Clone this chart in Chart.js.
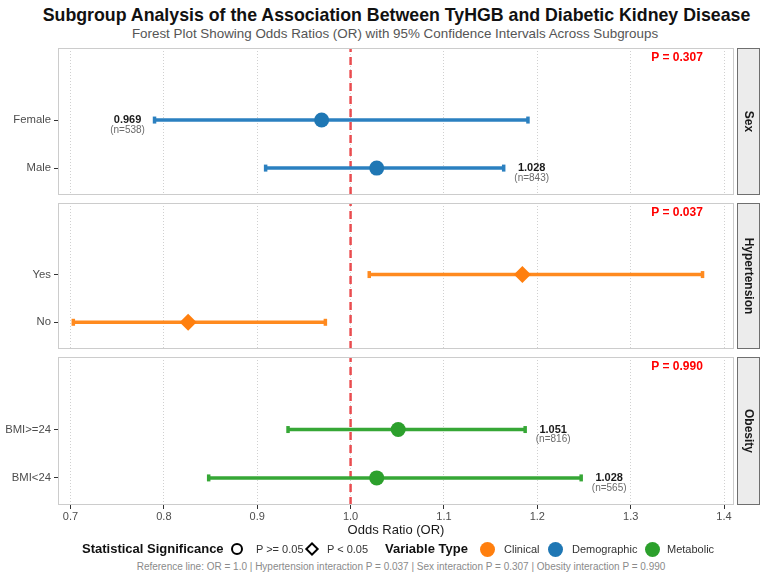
<!DOCTYPE html>
<html>
<head>
<meta charset="utf-8">
<script src="https://cdn.jsdelivr.net/npm/chart.js@4.4.1/dist/chart.umd.min.js"></script>
<style>
  body { margin: 0; background: #fff; font-family: "Liberation Sans", Arial, sans-serif; }
  #wrap { position: relative; width: 764px; height: 577px; overflow: hidden; }
  #wrap canvas { position: absolute; left: 0; }
  .title { position: absolute; top: 4px; left: 0; width: 793px; text-align: center;
           font-weight: bold; font-size: 17.75px; line-height: 22px; color: #111; }
  .subtitle { position: absolute; top: 26px; left: 0; width: 790px; text-align: center;
              font-size: 13.4px; line-height: 16px; color: #555; }
  .leg { position: absolute; top: 541px; height: 16px; line-height: 16px; white-space: nowrap; color: #333; font-size: 11px; }
  .leg.head { font-weight: bold; font-size: 13px; color: #111; }
  .sym { position: absolute; box-sizing: border-box; }
  .footer { position: absolute; top: 561px; left: 0; width: 802px; text-align: center;
            font-size: 10px; line-height: 12px; color: #8a8a8a; }
</style>
</head>
<body>
<div id="wrap">
  <div class="title">Subgroup Analysis of the Association Between TyHGB and Diabetic Kidney Disease</div>
  <div class="subtitle">Forest Plot Showing Odds Ratios (OR) with 95% Confidence Intervals Across Subgroups</div>
  <div class="footer" id="footer"></div>
</div>
<script>
// facets, top to bottom
const groups = ['Sex', 'Hypertension', 'Obesity'];
const groupType = ['Demographic', 'Clinical', 'Metabolic'];
const interactionP = [0.307, 0.037, 0.990];

// subgroups inside each facet, bottom to top
const subgroupLabels = [['Male', 'Female'], ['No', 'Yes'], ['BMI<24', 'BMI>=24']];
const oddsRatios = [[1.028, 0.969], [0.826, 1.184], [1.028, 1.051]];
const ciLower = [[0.909, 0.790], [0.703, 1.020], [0.848, 0.933]];
const ciUpper = [[1.164, 1.190], [0.973, 1.377], [1.247, 1.187]];
const sampleSizes = [[843, 538], [null, null], [565, 816]];

const xTicks = [0.7, 0.8, 0.9, 1.0, 1.1, 1.2, 1.3, 1.4];
const refLine = 1.0;

const typeNames = ['Clinical', 'Demographic', 'Metabolic'];
const typeColors = { Clinical: '#ff7f0e', Demographic: '#1f77b4', Metabolic: '#2ca02c' };
const lineColors = { Clinical: '#ff8a1f', Demographic: '#2b80c0', Metabolic: '#36a736' };

const FONT = '"Liberation Sans", Arial, sans-serif';
const xMin = 0.6866, xMax = 1.4107;
const yMin = 0.44, yMax = 3.5;

const panelTops = [48, 203, 357];
const panelHeights = [147, 146, 148];

const wrap = document.getElementById('wrap');

const panelDecor = {
    id: 'panelDecor',
    afterDraw(chart, args, opts) {
        const { ctx, chartArea: a, scales: { x, y } } = chart;
        const g = opts.group;
        ctx.save();

        // panel border
        ctx.strokeStyle = '#cccccc';
        ctx.lineWidth = 1;
        ctx.strokeRect(a.left + 0.5, a.top + 0.5, a.width - 1, a.height - 1);

        // facet strip on the right
        const sx = a.right + 3, sw = 23;
        ctx.fillStyle = '#ececec';
        ctx.fillRect(sx, a.top, sw, a.height);
        ctx.strokeStyle = '#6f6f6f';
        ctx.strokeRect(sx + 0.5, a.top + 0.5, sw - 1, a.height - 1);
        ctx.save();
        ctx.translate(sx + sw / 2, (a.top + a.bottom) / 2);
        ctx.rotate(Math.PI / 2);
        ctx.fillStyle = '#1a1a1a';
        ctx.font = 'bold 12px ' + FONT;
        ctx.textAlign = 'center';
        ctx.textBaseline = 'middle';
        ctx.fillText(groups[g], 0, 0);
        ctx.restore();

        // interaction p value
        ctx.fillStyle = '#ff0000';
        ctx.font = 'bold 12px ' + FONT;
        ctx.textAlign = 'center';
        ctx.textBaseline = 'middle';
        ctx.fillText('P = ' + interactionP[g].toFixed(3), a.right - 57, a.top + 9.5);

        // OR / n labels for non-significant facets
        if (interactionP[g] >= 0.05) {
            oddsRatios[g].forEach((or, i) => {
                const py = y.getPixelForValue(i + 1);
                const px = or < 1
                    ? x.getPixelForValue(ciLower[g][i]) - 27
                    : x.getPixelForValue(ciUpper[g][i]) + 28;
                ctx.fillStyle = '#1a1a1a';
                ctx.font = 'bold 11px ' + FONT;
                ctx.fillText(or.toFixed(3), px, py);
                if (sampleSizes[g][i] != null) {
                    ctx.fillStyle = '#6b6b6b';
                    ctx.font = '10px ' + FONT;
                    ctx.fillText('(n=' + sampleSizes[g][i] + ')', px, py + 10);
                }
            });
        }
        ctx.restore();
    }
};

function makePanel(g) {
    const isBottom = g === groups.length - 1;
    const padTop = 10;
    const axisH = isBottom ? 37 : 0;
    const canvas = document.createElement('canvas');
    const h = padTop + panelHeights[g] + (isBottom ? axisH : 10);
    canvas.width = 764;
    canvas.height = h;
    canvas.style.top = (panelTops[g] - padTop) + 'px';
    wrap.appendChild(canvas);

    const type = groupType[g];
    const color = typeColors[type];
    const lineColor = lineColors[type];
    const sig = interactionP[g] < 0.05;

    const datasets = [{
        order: 0,
        data: oddsRatios[g].map((v, i) => ({ x: v, y: i + 1 })),
        pointStyle: sig ? 'rectRot' : 'circle',
        pointRadius: sig ? 8.5 : 7.5,
        pointBackgroundColor: color,
        pointBorderColor: color,
        pointBorderWidth: 0
    }];

    oddsRatios[g].forEach((v, i) => {
        datasets.push({
            order: 1,
            showLine: true,
            data: [{ x: ciLower[g][i], y: i + 1 }, { x: ciUpper[g][i], y: i + 1 }],
            borderColor: lineColor,
            borderWidth: 3.5,
            pointStyle: 'line',
            pointRotation: 90,
            pointRadius: 3.5,
            pointBorderWidth: 3.5,
            pointBorderColor: lineColor
        });
    });

    datasets.push({
        order: 2,
        showLine: true,
        data: [{ x: refLine, y: yMin }, { x: refLine, y: yMax }],
        borderColor: 'rgba(232, 48, 52, 0.85)',
        borderWidth: 2.5,
        borderDash: [8, 5],
        pointRadius: 0
    });

    new Chart(canvas.getContext('2d'), {
        type: 'scatter',
        data: { datasets: datasets },
        options: {
            responsive: false,
            animation: false,
            events: [],
            layout: { padding: { top: padTop, right: 30, bottom: isBottom ? 0 : 10, left: 0 } },
            plugins: {
                legend: { display: false },
                tooltip: { enabled: false },
                panelDecor: { group: g }
            },
            scales: {
                x: {
                    type: 'linear',
                    min: xMin,
                    max: xMax,
                    afterBuildTicks: s => { s.ticks = xTicks.map(v => ({ value: v })); },
                    afterFit: s => { s.height = axisH; },
                    grid: {
                        color: '#d0d0d0',
                        lineWidth: 1,
                        drawTicks: isBottom,
                        tickLength: 4,
                        tickColor: '#333333',
                        tickBorderDash: []
                    },
                    border: { display: false, dash: [1, 2] },
                    ticks: {
                        display: isBottom,
                        color: '#4d4d4d',
                        font: { family: FONT, size: 11 },
                        padding: 1,
                        maxRotation: 0,
                        autoSkip: false,
                        callback: v => v.toFixed(1)
                    },
                    title: {
                        display: isBottom,
                        text: 'Odds Ratio (OR)',
                        color: '#1a1a1a',
                        font: { family: FONT, size: 13 },
                        padding: { top: 0, bottom: 4 }
                    }
                },
                y: {
                    type: 'linear',
                    min: yMin,
                    max: yMax,
                    afterBuildTicks: s => { s.ticks = subgroupLabels[g].map((l, i) => ({ value: i + 1 })); },
                    afterFit: s => { s.width = 58; },
                    grid: {
                        drawOnChartArea: false,
                        tickLength: 4,
                        tickColor: '#333333'
                    },
                    border: { display: false },
                    ticks: {
                        color: '#4d4d4d',
                        font: { family: FONT, size: 11.3 },
                        padding: 3,
                        callback: (v, i) => subgroupLabels[g][i]
                    }
                }
            }
        },
        plugins: [panelDecor]
    });
}

groups.forEach((name, g) => makePanel(g));

// legend row
function addLeg(text, left, head) {
    const el = document.createElement('div');
    el.className = head ? 'leg head' : 'leg';
    el.style.left = left + 'px';
    el.textContent = text;
    wrap.appendChild(el);
}
function addSym(cx, size, css) {
    const el = document.createElement('div');
    el.className = 'sym';
    el.style.left = (cx - size / 2) + 'px';
    el.style.top = (549 - size / 2) + 'px';
    el.style.width = size + 'px';
    el.style.height = size + 'px';
    Object.assign(el.style, css);
    wrap.appendChild(el);
}
addLeg('Statistical Significance', 82, true);
addSym(237, 12, { border: '2px solid #000', borderRadius: '50%' });
addLeg('P >= 0.05', 256, false);
addSym(312, 10, { border: '2px solid #000', transform: 'rotate(45deg)' });
addLeg('P < 0.05', 327, false);
addLeg('Variable Type', 385, true);
const typeSymX = [487, 555, 652];
const typeTextX = [504, 572, 667];
typeNames.forEach((t, i) => {
    addSym(typeSymX[i], 15, { background: typeColors[t], borderRadius: '50%' });
    addLeg(t, typeTextX[i], false);
});

document.getElementById('footer').textContent =
    'Reference line: OR = ' + refLine.toFixed(1) + ' | ' +
    [1, 0, 2].map(g => groups[g] + ' interaction P = ' + interactionP[g].toFixed(3)).join(' | ');
</script>
</body>
</html>
